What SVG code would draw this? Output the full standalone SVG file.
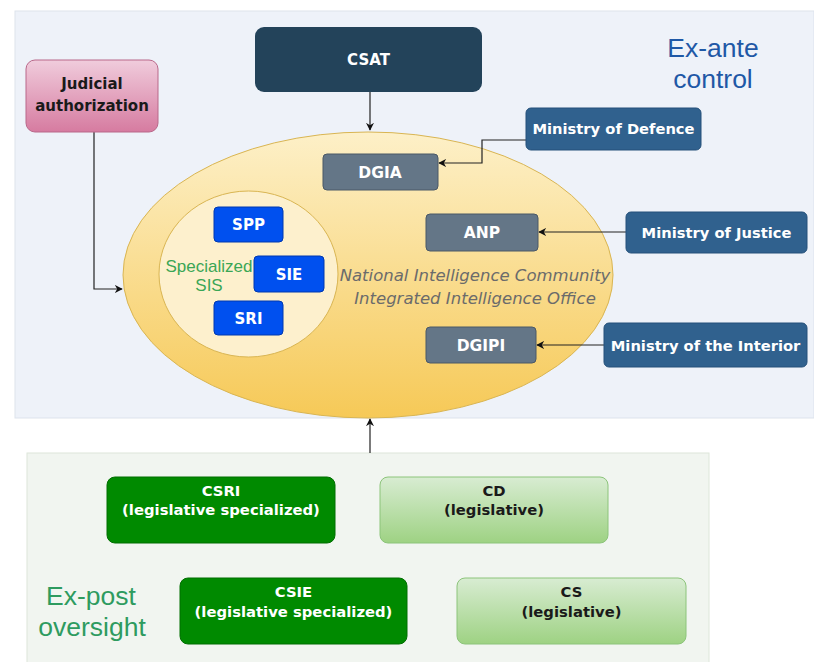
<svg xmlns="http://www.w3.org/2000/svg" width="814" height="662" viewBox="0 0 814 662">
<defs>
  <linearGradient id="gJud" x1="0" y1="0" x2="0" y2="1"><stop offset="0" stop-color="#f0ccdc"/><stop offset="1" stop-color="#d67ba0"/></linearGradient>
  <linearGradient id="gEll" x1="0" y1="0" x2="0" y2="1"><stop offset="0" stop-color="#fdf0c8"/><stop offset="1" stop-color="#f6c957"/></linearGradient>
  <linearGradient id="gLeg" x1="0" y1="0" x2="0" y2="1"><stop offset="0" stop-color="#d8ecd2"/><stop offset="1" stop-color="#9ed283"/></linearGradient>
  <marker id="arr" viewBox="0 0 10 10" refX="9" refY="5" markerWidth="8" markerHeight="8" orient="auto-start-reverse" markerUnits="userSpaceOnUse">
    <path d="M0,0 L10,5 L0,10 L3,5 Z" fill="#111"/>
  </marker>
</defs>
<style>
  .b { font-family: "DejaVu Sans", Verdana, sans-serif; font-weight: bold; text-anchor: middle; }
  .w { fill: #ffffff; }
  .d { fill: #1a1a1a; }
  .gray { fill: #647687; stroke: #4b5866; stroke-width: 1; }
  .min { fill: #30618e; stroke: #24507a; stroke-width: 1; }
  .sis { fill: #0050ef; stroke: #0038b0; stroke-width: 1; }
  .conn { fill: none; stroke: #222; stroke-width: 1.2; }
  .big { font-family: "Liberation Sans", Arial, sans-serif; font-size: 26.5px; text-anchor: middle; }
  .it { font-family: "DejaVu Sans", Verdana, sans-serif; font-style: italic; font-size: 16.5px; fill: #6b6b6b; text-anchor: middle; }
</style>
<rect width="814" height="662" fill="#ffffff"/>
<rect id="exante-panel" x="15" y="11" width="799" height="407" fill="#eef2f9" stroke="#dde3ec" stroke-width="1"/>
<rect id="expost-panel" x="27" y="453" width="682" height="215" fill="#f1f5f0" stroke="#dde6da" stroke-width="1"/>

<g id="ellipse-nic">
  <ellipse cx="368" cy="275" rx="245" ry="143" fill="url(#gEll)" stroke="#d9b552" stroke-width="1"/>
  <text class="it" x="475" y="281">National Intelligence Community</text>
  <text class="it" x="475" y="304">Integrated Intelligence Office</text>
</g>
<g id="sis-circle">
  <ellipse cx="248.5" cy="274" rx="89.5" ry="83" fill="#fdf0cd" stroke="#d9b552" stroke-width="1"/>
  <text x="209" y="272" font-family="Liberation Sans, Arial, sans-serif" font-size="17" fill="#3aa655" text-anchor="middle">Specialized</text>
  <text x="209" y="291" font-family="Liberation Sans, Arial, sans-serif" font-size="17" fill="#3aa655" text-anchor="middle">SIS</text>
</g>

<g id="connectors">
  <path class="conn" d="M370,92 L370,130" marker-end="url(#arr)"/>
  <path class="conn" d="M94,132 L94,289 L122,289" marker-end="url(#arr)"/>
  <path class="conn" d="M526,140 L482,140 L482,163 L439,163" marker-end="url(#arr)"/>
  <path class="conn" d="M626,232 L539,232" marker-end="url(#arr)"/>
  <path class="conn" d="M604,345 L537,345" marker-end="url(#arr)"/>
  <path class="conn" d="M370,453 L370,419" marker-end="url(#arr)"/>
</g>

<g id="csat">
  <rect x="255" y="27" width="227" height="65" rx="9" fill="#23435a"/>
  <text class="b w" x="368.5" y="65" font-size="15">CSAT</text>
</g>
<g id="judicial">
  <rect x="26" y="60" width="132" height="72" rx="9" fill="url(#gJud)" stroke="#b9688a" stroke-width="1"/>
  <text class="b d" x="92" y="89" font-size="15">Judicial</text>
  <text class="b d" x="92" y="111" font-size="15">authorization</text>
</g>
<g id="spp">
  <rect class="sis" x="214" y="207" width="69" height="35" rx="4"/>
  <text class="b w" x="248.5" y="230" font-size="15">SPP</text>
</g>
<g id="sie">
  <rect class="sis" x="254" y="256" width="70" height="36" rx="4"/>
  <text class="b w" x="289" y="279.5" font-size="15">SIE</text>
</g>
<g id="sri">
  <rect class="sis" x="214" y="301" width="69" height="34" rx="4"/>
  <text class="b w" x="248.5" y="323.5" font-size="15">SRI</text>
</g>
<g id="dgia">
  <rect class="gray" x="323" y="154" width="115" height="36" rx="4"/>
  <text class="b w" x="380" y="177.5" font-size="15.5">DGIA</text>
</g>
<g id="anp">
  <rect class="gray" x="426" y="214" width="112" height="37" rx="4"/>
  <text class="b w" x="482" y="238" font-size="15.5">ANP</text>
</g>
<g id="dgipi">
  <rect class="gray" x="426" y="327" width="110" height="36" rx="4"/>
  <text class="b w" x="481" y="350.5" font-size="15.5">DGIPI</text>
</g>
<g id="mod">
  <rect class="min" x="526" y="108" width="175" height="42" rx="5"/>
  <text class="b w" x="613.5" y="134" font-size="14.7">Ministry of Defence</text>
</g>
<g id="moj">
  <rect class="min" x="626" y="212" width="181" height="41" rx="5"/>
  <text class="b w" x="716.5" y="238" font-size="14.7">Ministry of Justice</text>
</g>
<g id="moi">
  <rect class="min" x="604" y="323" width="203" height="44" rx="5"/>
  <text class="b w" x="705.5" y="350.5" font-size="14.7">Ministry of the Interior</text>
</g>

<g id="exante-label">
  <text class="big" x="713" y="57" fill="#1f58a6">Ex-ante</text>
  <text class="big" x="713" y="88" fill="#1f58a6">control</text>
</g>

<g id="csri">
  <rect x="107" y="477" width="228" height="66" rx="8" fill="#008a00" stroke="#006e00" stroke-width="1"/>
  <text class="b w" x="221" y="496" font-size="14.8">CSRI</text>
  <text class="b w" x="221" y="515" font-size="14.8">(legislative specialized)</text>
</g>
<g id="cd">
  <rect x="380" y="477" width="228" height="66" rx="8" fill="url(#gLeg)" stroke="#8cc47a" stroke-width="1"/>
  <text class="b d" x="494" y="496" font-size="14.8">CD</text>
  <text class="b d" x="494" y="515" font-size="14.8">(legislative)</text>
</g>
<g id="csie">
  <rect x="180" y="578" width="227" height="66" rx="8" fill="#008a00" stroke="#006e00" stroke-width="1"/>
  <text class="b w" x="293.5" y="597" font-size="14.8">CSIE</text>
  <text class="b w" x="293.5" y="617" font-size="14.8">(legislative specialized)</text>
</g>
<g id="cs">
  <rect x="457" y="578" width="229" height="66" rx="8" fill="url(#gLeg)" stroke="#8cc47a" stroke-width="1"/>
  <text class="b d" x="571.5" y="597" font-size="14.8">CS</text>
  <text class="b d" x="571.5" y="617" font-size="14.8">(legislative)</text>
</g>

<g id="expost-label">
  <text class="big" x="91" y="605" fill="#2e9b5f">Ex-post</text>
  <text class="big" x="92" y="636" fill="#2e9b5f">oversight</text>
</g>
</svg>
